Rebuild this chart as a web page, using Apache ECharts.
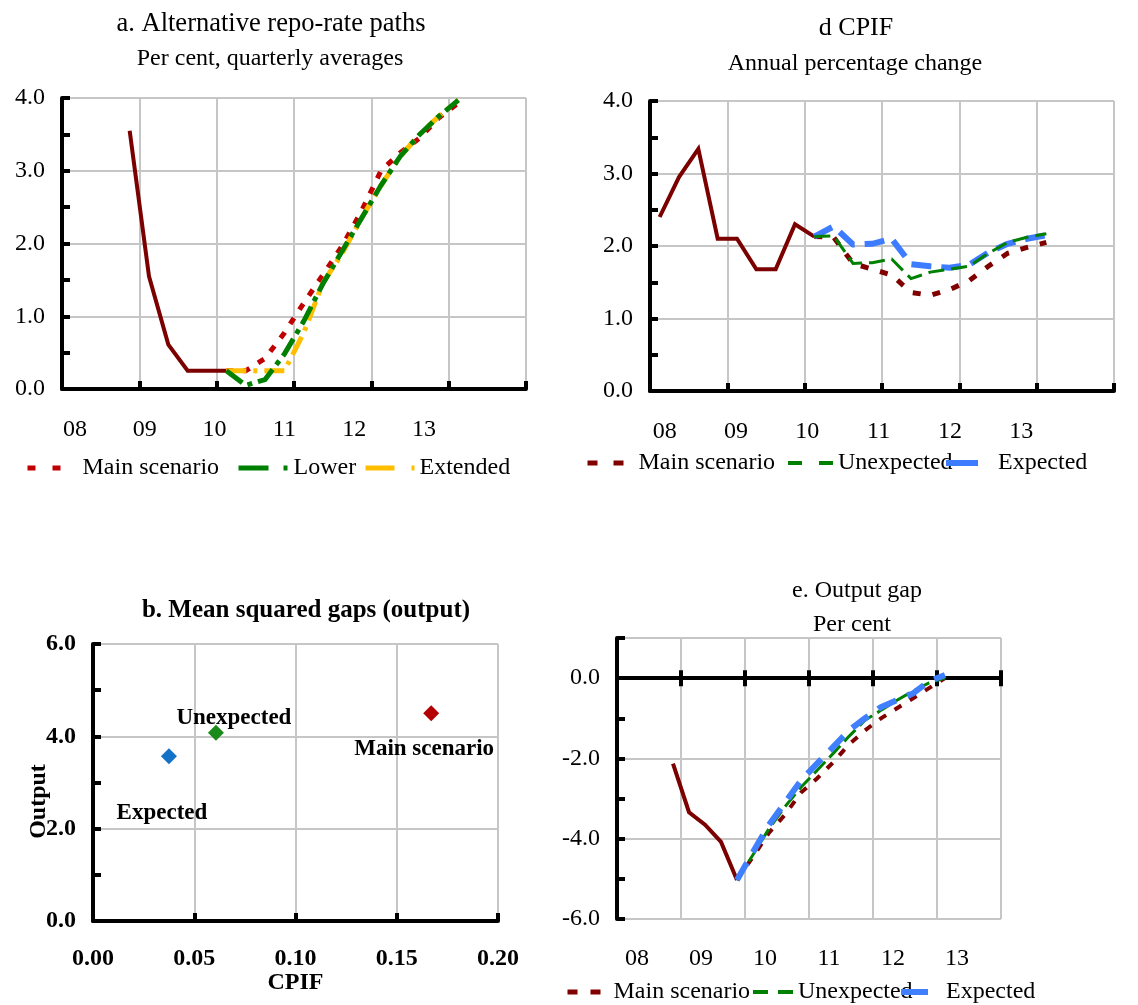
<!DOCTYPE html>
<html><head><meta charset="utf-8">
<script src="https://cdn.jsdelivr.net/npm/echarts@6/dist/echarts.min.js"></script>
<style>html,body{margin:0;padding:0;background:#fff}#c{width:1138px;height:1005px}</style>
</head><body><div id="c"></div>
<script>
const FONT = '"Liberation Serif", "Times New Roman", serif';

// ---------- tick labels ----------
const yearLabels = ['08', '09', '10', '11', '12', '13'];

// ---------- panel a: repo-rate paths (per cent) ----------
const aHistQuarters = ['2008Q4','2009Q1','2009Q2','2009Q3','2009Q4','2010Q1'];
const aHist = [3.55, 1.55, 0.61, 0.25, 0.25, 0.25];
const aFcQuarters = ['2010Q1','2010Q2','2010Q3','2010Q4','2011Q1','2011Q2','2011Q3','2011Q4','2012Q1','2012Q2','2012Q3','2012Q4','2013Q1'];
const aMain     = [0.25, 0.25, 0.42, 0.77, 1.18, 1.57, 1.97, 2.45, 3.00, 3.25, 3.45, 3.73, 3.93];
const aLower    = [0.25, 0.05, 0.13, 0.48, 0.93, 1.45, 1.90, 2.35, 2.80, 3.20, 3.50, 3.75, 3.97];
const aExtended = [0.25, 0.25, 0.25, 0.25, 0.77, 1.46, 1.87, 2.35, 2.80, 3.20, 3.50, 3.75, 3.97];

// ---------- panel d: CPIF (annual % change) ----------
const dHistQuarters = ['2008Q1','2008Q2','2008Q3','2008Q4','2009Q1','2009Q2','2009Q3','2009Q4','2010Q1'];
const dHist = [2.40, 2.95, 3.34, 2.10, 2.10, 1.68, 1.68, 2.30, 2.13];
const dFcQuarters = ['2010Q1','2010Q2','2010Q3','2010Q4','2011Q1','2011Q2','2011Q3','2011Q4','2012Q1','2012Q2','2012Q3','2012Q4','2013Q1'];
const dMain       = [2.13, 2.12, 1.76, 1.68, 1.60, 1.36, 1.32, 1.40, 1.52, 1.72, 1.90, 1.98, 2.05];
const dUnexpected = [2.13, 2.14, 1.76, 1.77, 1.82, 1.55, 1.64, 1.68, 1.72, 1.90, 2.05, 2.12, 2.17];
const dExpected   = [2.13, 2.27, 2.02, 2.03, 2.10, 1.75, 1.72, 1.70, 1.74, 1.91, 2.03, 2.10, 2.15];

// ---------- panel b: mean squared gaps ----------
const bNames  = ['Main scenario', 'Unexpected', 'Expected'];
const bCpif   = [0.167, 0.0607, 0.0375];
const bOutput = [4.50, 4.08, 3.57];

// ---------- panel e: output gap (per cent) ----------
const eHistQuarters = ['2008Q4','2009Q1','2009Q2','2009Q3','2009Q4'];
const eHist = [-2.13, -3.34, -3.65, -4.08, -5.03];
const eFcQuarters = ['2009Q4','2010Q1','2010Q2','2010Q3','2010Q4','2011Q1','2011Q2','2011Q3','2011Q4','2012Q1','2012Q2','2012Q3','2012Q4','2013Q1'];
const eMain       = [-5.03, -4.45, -3.85, -3.40, -2.85, -2.50, -2.10, -1.65, -1.30, -1.00, -0.75, -0.50, -0.25, 0.00];
const eUnexpected = [-5.03, -4.40, -3.75, -3.20, -2.72, -2.30, -1.88, -1.45, -1.05, -0.80, -0.55, -0.32, -0.12, 0.00];
const eExpected   = [-5.03, -4.33, -3.65, -3.10, -2.55, -2.13, -1.72, -1.30, -1.00, -0.72, -0.55, -0.38, -0.08, 0.08];

// ---------- helpers ----------
function qpos(q) { const y = +q.slice(0, 4), k = +q.slice(5); return y + (k - 0.5) / 4; }
function pairs(qs, vals) { return qs.map((q, i) => [qpos(q), vals[i]]); }

const GRID_COLOR = '#c6c6c6';
function tickAxisY(gridIndex, min, max, interval) {
  return { type: 'value', gridIndex, min, max, interval, position: 'left',
    axisLine: { show: true, onZero: false, lineStyle: { color: '#000', width: 4 } },
    axisTick: { show: true, inside: true, length: 8, lineStyle: { color: '#000', width: 4 } },
    axisLabel: { show: false }, splitLine: { show: false } };
}
function labelAxisY(gridIndex, min, max, interval, bold, extra) {
  return Object.assign({ type: 'value', gridIndex, min, max, interval, position: 'left',
    axisLine: { show: false, onZero: false }, axisTick: { show: false },
    axisLabel: { show: true, margin: 17, fontFamily: FONT, fontSize: 24, color: '#000', fontWeight: bold ? 'bold' : 'normal',
      formatter: v => (Math.abs(v - max) < 1e-9 && Math.abs(max % interval) > 1e-9) ? '' : v.toFixed(1) },
    splitLine: { show: true, lineStyle: { color: GRID_COLOR, width: 2 } } }, extra || {});
}
function yearAxisX(gridIndex, o) {
  return { type: 'value', gridIndex, min: 2008, max: 2014, interval: 1, position: 'bottom',
    axisLine: { show: true, onZero: !!o.onZero, lineStyle: { color: '#000', width: 4 } },
    axisTick: { show: true, inside: o.inside, length: 8, lineStyle: { color: '#000', width: 4 } },
    axisLabel: { show: false },
    splitLine: { show: !!o.split, lineStyle: { color: GRID_COLOR, width: 2 } } };
}
function yearLabelAxis(gridIndex, margin) {
  return { type: 'category', gridIndex, data: yearLabels, boundaryGap: true, position: 'bottom',
    axisLine: { show: false }, axisTick: { show: false }, splitLine: { show: false },
    axisLabel: { show: true, interval: 0, margin, fontFamily: FONT, fontSize: 24, color: '#000' } };
}
function lineSeries(name, xi, yi, data, color, width, type, z) {
  return { type: 'line', name, xAxisIndex: xi, yAxisIndex: yi, data, symbol: 'none', showSymbol: false,
    silent: true, animation: false, z: z || 2,
    lineStyle: { color, width, type, cap: 'butt', join: 'miter' }, itemStyle: { color } };
}
function legendItem(name, left, top, itemWidth, dash, width) {
  return { data: [name], left, top, itemWidth, itemHeight: 14, itemGap: 0, padding: 0,
    selectedMode: false,
    itemStyle: { opacity: 0, borderWidth: 0 },
    lineStyle: { type: dash, width, cap: 'butt' },
    textStyle: { fontFamily: FONT, fontSize: 24, color: '#000' } };
}
function txt(text, x, y, size, bold) {
  return { type: 'text', x, y, silent: true,
    style: { text, font: (bold ? 'bold ' : '') + size + 'px ' + FONT, fill: '#000',
      textAlign: 'center', textVerticalAlign: 'middle', align: 'center', verticalAlign: 'middle' } };
}

const HIST = '#7b0000';
const bColors = { 'Main scenario': '#b40000', 'Unexpected': '#1a8a1a', 'Expected': '#1272c8' };
const bLabelOffset = { 'Main scenario': [-7, 36], 'Unexpected': [18, -15], 'Expected': [-7, 57] };

const option = {
  animation: false,
  backgroundColor: '#fff',
  grid: [
    { left: 62, top: 98, width: 464, height: 291 },   // 0 panel a
    { left: 40, top: 98, width: 419, height: 291 },   // 1 panel a year labels
    { left: 650, top: 101, width: 464, height: 290 }, // 2 panel d
    { left: 629, top: 101, width: 428, height: 290 }, // 3 panel d year labels
    { left: 93, top: 644, width: 405, height: 277 },  // 4 panel b
    { left: 617, top: 638, width: 384, height: 281 }, // 5 panel e
    { left: 605, top: 638, width: 384, height: 281 }  // 6 panel e year labels
  ],
  xAxis: [
    yearAxisX(0, { inside: true, split: true }),           // 0
    yearLabelAxis(1, 29),                                  // 1
    yearAxisX(2, { inside: true, split: true }),           // 2
    yearLabelAxis(3, 29),                                  // 3
    { type: 'value', gridIndex: 4, min: 0, max: 0.2, interval: 0.05, position: 'bottom',
      axisLine: { show: true, onZero: false, lineStyle: { color: '#000', width: 4 } },
      axisTick: { show: true, inside: true, length: 8, lineStyle: { color: '#000', width: 4 } },
      axisLabel: { show: true, margin: 26, fontFamily: FONT, fontSize: 24, fontWeight: 'bold', color: '#000', formatter: v => v.toFixed(2) },
      splitLine: { show: true, lineStyle: { color: GRID_COLOR, width: 2 } },
      name: 'CPIF', nameLocation: 'middle', nameGap: 50, nameMoveOverlap: false,
      nameTextStyle: { fontFamily: FONT, fontSize: 24, fontWeight: 'bold', color: '#000' } }, // 4
    yearAxisX(5, { inside: true, split: true, onZero: true }),  // 5
    yearAxisX(5, { inside: false, split: false, onZero: true }),// 6
    yearLabelAxis(6, 28)                                        // 7
  ],
  yAxis: [
    tickAxisY(0, 0, 4, 0.5),                 // 0
    labelAxisY(0, 0, 4, 1, false),           // 1
    { gridIndex: 1, type: 'value', show: false, min: 0, max: 1 }, // 2
    tickAxisY(2, 0, 4, 0.5),                 // 3
    labelAxisY(2, 0, 4, 1, false),           // 4
    { gridIndex: 3, type: 'value', show: false, min: 0, max: 1 }, // 5
    tickAxisY(4, 0, 6, 1),                   // 6
    labelAxisY(4, 0, 6, 2, true, { name: 'Output', nameLocation: 'middle', nameGap: 42, nameMoveOverlap: false,
      nameTextStyle: { fontFamily: FONT, fontSize: 24, fontWeight: 'bold', color: '#000', padding: [0, 38, 0, 0] } }), // 7
    tickAxisY(5, -6, 1, 1),                  // 8
    labelAxisY(5, -6, 1, 2, false),          // 9
    { gridIndex: 6, type: 'value', show: false, min: 0, max: 1 }  // 10
  ],
  legend: [
    legendItem('Main scenario', 25, 456, 50, [8, 17], 5),
    legendItem('Lower', 236, 456, 50, [30, 15, 4, 10], 5),
    legendItem('Extended', 363, 456, 49, [29, 17, 3, 10], 5),
    legendItem('Main scenario ', 585, 451, 46, [10, 16], 5),
    legendItem('Unexpected', 786, 451, 45, [14, 17], 4),
    legendItem('Expected', 943, 451, 47, [32, 20], 6),
    legendItem('Main scenario  ', 565, 980, 41, [10, 13], 5),
    legendItem('Unexpected ', 751, 980, 40, [15, 10], 4),
    legendItem('Expected ', 898, 980, 40, [27, 20], 6)
  ],
  series: [
    // panel a
    lineSeries('a history', 0, 0, pairs(aHistQuarters, aHist), HIST, 4, 'solid'),
    lineSeries('Main scenario', 0, 0, pairs(aFcQuarters, aMain), '#c00000', 5, [7, 10]),
    lineSeries('Extended', 0, 0, pairs(aFcQuarters, aExtended), '#ffbf00', 5, [20, 7, 4, 7]),
    lineSeries('Lower', 0, 0, pairs(aFcQuarters, aLower), '#008000', 5, [20, 6, 5, 6]),
    // panel d
    lineSeries('d history', 2, 3, pairs(dHistQuarters, dHist), HIST, 4, 'solid'),
    lineSeries('Main scenario ', 2, 3, pairs(dFcQuarters, dMain), '#800000', 5, [8, 12]),
    lineSeries('Expected', 2, 3, pairs(dFcQuarters, dExpected), '#3d7bff', 6, [20, 10]),
    lineSeries('Unexpected', 2, 3, pairs(dFcQuarters, dUnexpected), '#008000', 3, [16, 7]),
    // panel b
    { type: 'scatter', name: 'gaps', xAxisIndex: 4, yAxisIndex: 6, symbol: 'diamond', symbolSize: 16,
      silent: true, animation: false,
      itemStyle: { opacity: 1 },
      data: bNames.map((n, i) => ({ name: n, value: [bCpif[i], bOutput[i]],
        itemStyle: { color: bColors[n], opacity: 1 },
        label: { show: true, position: 'inside', offset: bLabelOffset[n], formatter: n,
          fontFamily: FONT, fontSize: 23, fontWeight: 'bold', color: '#000', opacity: 1 } })) },
    // panel e
    lineSeries('e history', 5, 8, pairs(eHistQuarters, eHist), HIST, 4, 'solid'),
    lineSeries('Main scenario  ', 5, 8, pairs(eFcQuarters, eMain), '#800000', 4, [8, 10]),
    lineSeries('Unexpected ', 5, 8, pairs(eFcQuarters, eUnexpected), '#008000', 3, [16, 6]),
    lineSeries('Expected ', 5, 8, pairs(eFcQuarters, eExpected), '#4080ff', 6, [20, 12])
  ],
  graphic: [
    txt('a. Alternative repo-rate paths', 271, 24, 26.5),
    txt('Per cent, quarterly averages', 270, 59, 24),
    txt('d CPIF', 856, 28, 26),
    txt('Annual percentage change', 855, 64, 24),
    txt('b. Mean squared gaps (output)', 306, 611, 25, true),
    txt('e. Output gap', 857, 591, 24),
    txt('Per cent', 852, 625, 24)
  ]
};

const chart = echarts.init(document.getElementById('c'), null, { renderer: 'canvas' });
chart.setOption(option);
</script>
</body></html>
